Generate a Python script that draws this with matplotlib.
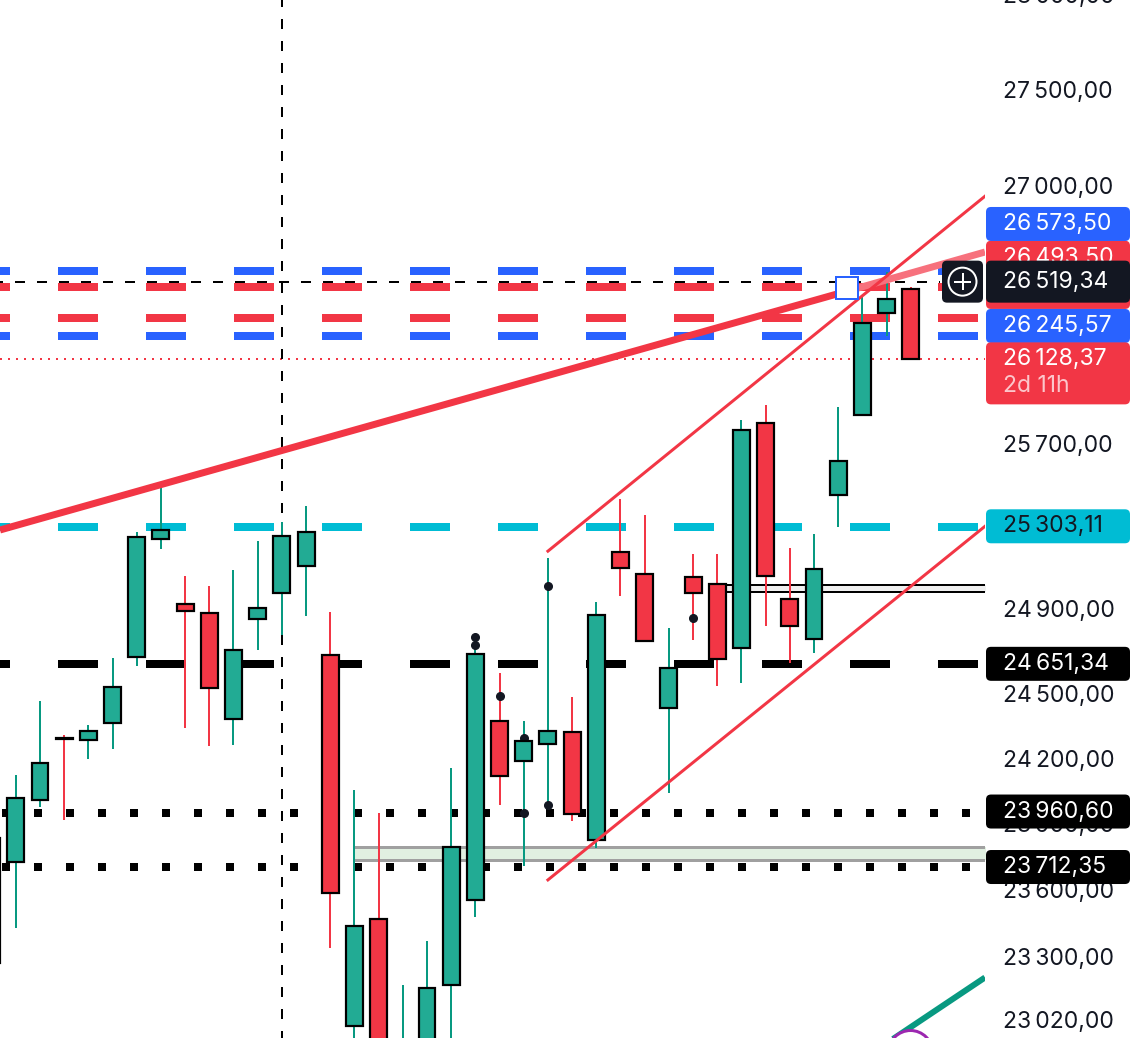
import matplotlib
matplotlib.use("Agg")
import matplotlib.pyplot as plt
from matplotlib.patches import FancyBboxPatch, Circle
from matplotlib.lines import Line2D
from matplotlib.transforms import IdentityTransform
from matplotlib.ticker import NullLocator, NullFormatter

plt.rcParams['font.family'] = ['Inter', 'DejaVu Sans']
plt.rcParams['lines.scale_dashes'] = False

# ---------------- data ----------------
idx = list(range(-1, 38))
opens = [23282, 23735, 24018, 24305, 24296, 24375, 24683, 25246, 24934, 24891,
         24393, 24863, 24987, 25116, 24692, 23004, 23479, 22679, 22854, 23185,
         23563, 24384, 24198, 24277, 24333, 23836, 25183, 25078, 24445, 25063,
         25030, 24725, 25811, 24958, 24768, 25460, 25851, 26360, 26482]
highs = [23881, 24133, 24477, 24319, 24366, 24678, 25280, 25509, 25068, 25020,
         25097, 25237, 25329, 25407, 24896, 24064, 23959, 23185, 23380, 24166,
         24787, 24607, 24384, 25155, 24496, 24943, 25441, 25363, 24820, 25174,
         25174, 25827, 25900, 25203, 25271, 25890, 26441, 26568, 26492]
lows = [23229, 23439, 23986, 23927, 24207, 24254, 24640, 25198, 24352, 24268,
        24272, 24716, 24787, 24877, 23349, 22920, 22833, 22636, 22811, 22920,
        23488, 23995, 23717, 23995, 23922, 23799, 24972, 24756, 24050, 24763,
        24546, 24560, 24830, 24655, 24702, 25305, 25851, 26245, 26128.37]
closes = [23845, 24027, 24189, 24298, 24338, 24541, 25256, 25290, 24901, 24537,
          24716, 24915, 25261, 25280, 23595, 23448, 22898, 22898, 23171, 23804,
          24697, 24129, 24291, 24338, 23954, 24882, 25107, 24759, 24631, 24987,
          24674, 25777, 25068, 24830, 25102, 25624, 26310, 26431, 26128.37]

# y-axis tick labels
tick_vals = [27500, 27000, 25700, 24900, 24500, 24200, 23900, 23600, 23300, 23020]
tick_labels = ["27\u2009500,00", "27\u2009000,00", "25\u2009700,00", "24\u2009900,00",
               "24\u2009500,00", "24\u2009200,00", "23\u2009900,00", "23\u2009600,00",
               "23\u2009300,00", "23\u2009020,00"]
top_tick_val = 28000
top_tick_label = "28\u2009000,00"

# horizontal dashed levels
dash_levels = [26573.50, 26493.50, 26336.0, 26245.57, 25303.11, 24651.34]
dash_colors = ['#2962ff', '#f23645', '#f23645', '#2962ff', '#00bcd4', '#000000']
dot_levels = [23960.60, 23712.35]
last_price = 26128.37
cross_x = 11
cross_price = 26519.34

# zones
band_x = [14.0, 40.1]
band_lo, band_hi = 23745, 23804
double_x = [29.0, 40.1]
double_lo, double_hi = 24994, 25027

# trend lines (index, price)
thick_x = [-0.653, 34.36, 40.07]
thick_y = [25290, 26471, 26670]
chan_up_x = [22.0, 40.07]
chan_up_y = [25188, 26956]
chan_lo_x = [22.0, 40.07]
chan_lo_y = [23654, 25308]
green_x = [35.72, 40.07]
green_y = [22907, 23217]
anchor_x, anchor_y = 34.36, 26489
circle_x, circle_y = 36.97, 22889

# indicator dots
dot_x = [19, 19, 20, 21, 21, 22, 22, 28]
dot_y = [24779, 24742, 24501, 24305, 23959, 25020, 23995, 24868]

# price labels on the axis
lab_vals = [26336.0, 26493.50, 26573.50, 26245.57, 26128.37, 25303.11, 24651.34, 23960.60, 23712.35]
lab_text = ["26\u2009336,00", "26\u2009493,50", "26\u2009573,50", "26\u2009245,57", "26\u2009128,37",
            "25\u2009303,11", "24\u2009651,34", "23\u2009960,60", "23\u2009712,35"]
lab_bg = ['#f23645', '#f23645', '#2962ff', '#2962ff', '#f23645', '#00bcd4', '#000000', '#000000', '#000000']
lab_fg = ['white', 'white', 'white', 'white', 'white', '#131722', 'white', 'white', 'white']
lab_shift = [-26, -29, -47, -10, 0, -1, 0, -1, 0]   # layout offsets in px (stacking)
countdown = "2d 11h"

# ---------------- figure ----------------
W, H = 1140, 1038
fig = plt.figure(figsize=(W / 100, H / 100), dpi=100, facecolor='white')
ax = fig.add_axes([0, 0, 985 / W, 1])
ax.set_yscale('log')
ax.set_xlim(-0.653, 40.07)
ax.set_ylim(22950, 27986)
for s in ax.spines.values():
    s.set_visible(False)
ax.xaxis.set_visible(False)
ax.yaxis.tick_right()
ax.set_yticks(tick_vals, labels=tick_labels)
ax.yaxis.set_minor_locator(NullLocator())
ax.yaxis.set_minor_formatter(NullFormatter())
ax.tick_params(axis='y', length=0, pad=13, labelsize=16.5, labelcolor='#131722')
for lbl in ax.get_yticklabels():
    lbl.set_verticalalignment('center')

PT = 0.72  # points per pixel

# dashed levels
for lv, col in zip(dash_levels, dash_colors):
    ax.plot([-0.653, 40.1], [lv, lv], color=col, lw=8 * PT, solid_capstyle='butt',
            dash_capstyle='butt', linestyle=(30 * PT, (40 * PT, 48 * PT)), zorder=2)
for lv in dot_levels:
    ax.plot([-0.653, 40.1], [lv, lv], color='black', lw=8 * PT, dash_capstyle='butt',
            linestyle=(30 * PT, (8 * PT, 24 * PT)), zorder=2)
ax.plot([-0.653, 40.1], [last_price, last_price], color='#f23645', lw=2 * PT,
        dash_capstyle='butt', linestyle=(0, (2 * PT, 6 * PT)), zorder=2)

# zones
ax.fill_between(band_x, band_lo, band_hi, color='#e1f0e1', lw=0, zorder=1)
ax.plot(band_x, [band_lo, band_lo], color='#a0a0a0', lw=3 * PT, zorder=1.5)
ax.plot(band_x, [band_hi, band_hi], color='#a0a0a0', lw=3 * PT, zorder=1.5)
ax.fill_between(double_x, double_lo, double_hi, color='#efefef', lw=0, zorder=1)
ax.plot(double_x, [double_lo, double_lo], color='black', lw=2 * PT, zorder=1.5)
ax.plot(double_x, [double_hi, double_hi], color='black', lw=2 * PT, zorder=1.5)

# crosshair
ax.plot([cross_x, cross_x], [27986, 22950], color='black', lw=2 * PT, dash_capstyle='butt',
        linestyle=(3 * PT, (10 * PT, 12 * PT)), zorder=2.5)
ax.plot([-0.653, 38.21], [cross_price, cross_price], color='black', lw=2 * PT, dash_capstyle='butt',
        linestyle=(7 * PT, (10 * PT, 12 * PT)), zorder=2.5)

# candles
up_body, dn_body = '#22ab94', '#f23645'
up_wick, dn_wick = '#089981', '#f23645'
for x, o, h, l, c in zip(idx, opens, highs, lows, closes):
    up = c >= o
    ax.vlines(x, l, h, color=up_wick if up else dn_wick, lw=2 * PT, zorder=3)
ax.plot(dot_x, dot_y, 'o', color='#131722', ms=5.5, zorder=3.5)
for x, o, h, l, c in zip(idx, opens, highs, lows, closes):
    up = c >= o
    ax.bar(x, abs(c - o), bottom=min(o, c), width=0.70, color=up_body if up else dn_body,
           edgecolor='black', linewidth=2.2 * PT, zorder=4)

# trend lines
ax.plot(thick_x[:2], thick_y[:2], color='#f23645', lw=7 * PT, solid_capstyle='butt', zorder=6)
ax.plot(thick_x[1:], thick_y[1:], color='#f7717d', lw=7 * PT, solid_capstyle='butt', zorder=6)
ax.plot(chan_up_x, chan_up_y, color='#f23645', lw=3 * PT, zorder=6)
ax.plot(chan_lo_x, chan_lo_y, color='#f23645', lw=3 * PT, zorder=6)
ax.plot(green_x, green_y, color='#089981', lw=6 * PT, solid_capstyle='butt', zorder=6)
ax.plot([circle_x], [circle_y], 'o', ms=44 * PT, mfc='white', mec='#9c27b0', mew=3 * PT, zorder=7)
ax.plot([anchor_x], [anchor_y], 's', ms=22 * PT, mfc='white', mec='#2962ff', mew=2 * PT, zorder=7)

# top tick (partly outside the view)
ax.text(1003 / 985, top_tick_val, top_tick_label, transform=ax.get_yaxis_transform(),
        ha='left', va='center', fontsize=16.5, color='#131722', clip_on=False)

# ---------------- price labels (display coords) ----------------
ID = IdentityTransform()


def ypix(price):
    return ax.transData.transform((0, price))[1]


def label_box(cy, h, bg, z):
    fig.add_artist(FancyBboxPatch((986, cy - h / 2), 144, h,
                                  boxstyle='round,pad=0,rounding_size=5', transform=ID,
                                  facecolor=bg, edgecolor='none', zorder=z))


z = 10
for v, t, bg, fg, sh in zip(lab_vals, lab_text, lab_bg, lab_fg, lab_shift):
    cy = ypix(v) - sh
    if v == last_price:
        label_box(cy - 14, 62, bg, z)
        fig.text(1003, cy, t, transform=ID, ha='left', va='center', fontsize=16.5, color=fg, zorder=z + 0.5)
        fig.text(1003, cy - 27, countdown, transform=ID, ha='left', va='center', fontsize=16.5,
                 color='#fcc6cb', zorder=z + 0.5)
    else:
        label_box(cy, 34, bg, z)
        fig.text(1003, cy, t, transform=ID, ha='left', va='center', fontsize=16.5, color=fg, zorder=z + 0.5)
    z += 1
    if t.startswith("26\u2009573"):
        # crosshair label drawn above the upper stack
        cyc = ypix(cross_price)
        label_box(cyc, 42, '#131722', z)
        fig.text(1003, cyc, "26\u2009519,34", transform=ID, ha='left', va='center', fontsize=16.5,
                 color='white', zorder=z + 0.5)
        fig.add_artist(FancyBboxPatch((942, cyc - 21), 41, 42, boxstyle='round,pad=0,rounding_size=5',
                                      transform=ID, facecolor='#131722', edgecolor='none', zorder=z))
        fig.add_artist(Circle((962.5, cyc), 14, transform=ID, fill=False, edgecolor='white',
                              lw=2 * PT, zorder=z + 0.5))
        fig.add_artist(Line2D([955, 970], [cyc, cyc], transform=ID, color='white', lw=2 * PT, zorder=z + 0.6))
        fig.add_artist(Line2D([962.5, 962.5], [cyc - 7.5, cyc + 7.5], transform=ID, color='white',
                              lw=2 * PT, zorder=z + 0.6))
        z += 1

fig.savefig('out.png', dpi=100, facecolor='white')
